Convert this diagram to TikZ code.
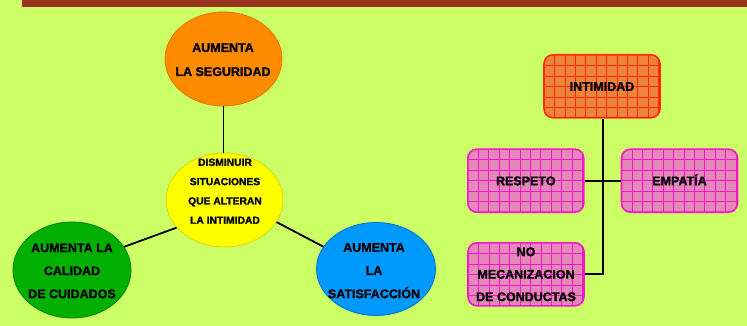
\documentclass[tikz,border=0pt]{standalone}
\usepackage{fontspec}
\setmainfont{Liberation Sans}[BoldFont={Liberation Sans Bold}, BoldFeatures={FakeBold=1.6}]
\usetikzlibrary{shapes.geometric}
\definecolor{bg}{RGB}{204,255,102}
\definecolor{bar}{RGB}{153,51,30}
\definecolor{cOrange}{RGB}{255,140,0}
\definecolor{cOrangeD}{RGB}{225,115,0}
\definecolor{cYellow}{RGB}{255,255,0}
\definecolor{cYellowD}{RGB}{215,215,0}
\definecolor{cGreen}{RGB}{0,175,0}
\definecolor{cGreenD}{RGB}{0,130,0}
\definecolor{cBlue}{RGB}{0,153,255}
\definecolor{cBlueD}{RGB}{0,110,210}
\definecolor{boxOr}{RGB}{236,132,62}
\definecolor{gridRed}{RGB}{255,40,0}
\definecolor{boxPink}{RGB}{228,136,186}
\definecolor{gridMag}{RGB}{245,20,205}
\definecolor{txt}{RGB}{0,0,0}
\begin{document}
\begin{tikzpicture}[x=1pt,y=-1pt,
  bubble/.style={ellipse, draw=#1, line width=0.8pt, inner sep=0pt},
  btext/.style={align=center, text=txt, font=\bfseries\fontsize{12.5}{#1}\selectfont},
  gridbox/.style 2 args={rounded corners=9pt, draw=#2, fill=#1, line width=1.6pt,
     minimum width=116pt, minimum height=63pt, inner sep=0pt, align=center, text=txt,
     font=\bfseries\fontsize{12.5}{22.5}\selectfont,
     path picture={
       \foreach \i in {1,...,11}{
         \draw[#2, line width=0.5pt] ([xshift=\i*10.4pt]path picture bounding box.north west) -- ([xshift=\i*10.4pt]path picture bounding box.south west);}
       \foreach \j in {1,...,6}{
         \draw[#2, line width=0.5pt] ([yshift=-\j*10.5pt]path picture bounding box.north west) -- ([yshift=-\j*10.5pt]path picture bounding box.north east);}
     }},
  conn/.style={line width=1.8pt, black}
]
\useasboundingbox (0,0) rectangle (747,326);
\fill[bg] (0,0) rectangle (747,326);
\fill[bar] (22,0) rectangle (747,6.7);

% ellipses
\node[bubble=cOrangeD, fill=cOrange, minimum width=117pt, minimum height=94pt] (seg) at (223.5,59) {};
\node[bubble=cYellowD, fill=cYellow, minimum width=117pt, minimum height=94pt] (dis) at (224.5,200) {};
\node[bubble=cGreenD, fill=cGreen, minimum width=118pt, minimum height=96pt] (cal) at (72,270) {};
\node[bubble=cBlueD, fill=cBlue, minimum width=119pt, minimum height=93pt] (sat) at (376,269) {};

\node[btext=24] (segT) at (223,59.7) {AUMENTA\\LA SEGURIDAD};
\node[align=center, text=txt, font=\bfseries\fontsize{10.3}{19.3}\selectfont] (disT) at (225,191.2) {DISMINUIR\\SITUACIONES\\QUE ALTERAN\\LA INTIMIDAD};
\node[btext=23] (calT) at (72,270.9) {AUMENTA LA\\CALIDAD\\DE CUIDADOS};
\node[btext=23.2] (satT) at (374,270.7) {AUMENTA\\LA\\SATISFACCIÓN};

\draw[conn] (seg.south) -- (seg.south |- dis.north);
\draw[conn] (dis.210) -- (cal.24);
\draw[conn] (dis.-23) -- (sat.157);

% boxes
\node[gridbox={boxOr}{gridRed}, text height=9pt, text depth=0pt] (int) at (602,86.3) {INTIMIDAD};
\node[gridbox={boxPink}{gridMag}, text height=9pt, text depth=0pt] (res) at (525.8,180.7) {RESPETO};
\node[gridbox={boxPink}{gridMag}, text height=9pt, text depth=0pt] (emp) at (679.5,180.7) {EMPATÍA};
\node[gridbox={boxPink}{gridMag}] (mec) at (526,274.3) {NO\\MECANIZACION\\DE CONDUCTAS};

\coordinate (jn) at (602.7,274.3);
\draw[conn] (int.south -| jn) -- (jn) -- (mec.east);
\draw[conn] (res.east) -- (emp.west);
\end{tikzpicture}
\end{document}
